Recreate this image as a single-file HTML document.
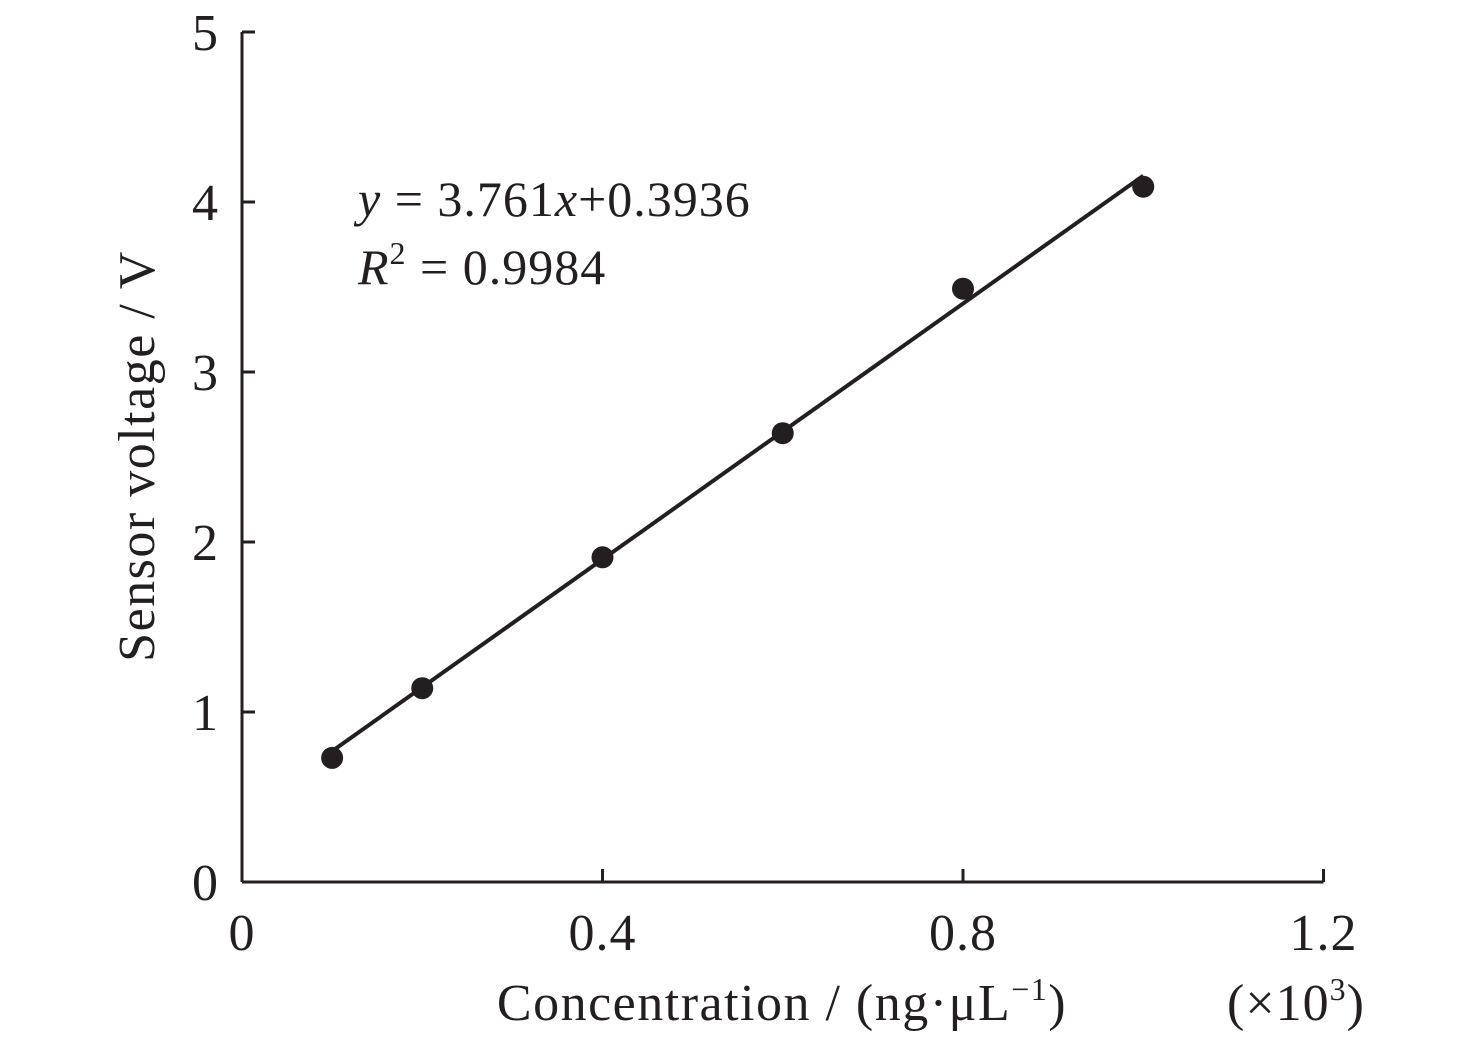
<!DOCTYPE html>
<html><head><meta charset="utf-8"><style>
html,body{margin:0;padding:0;background:#fff;}
svg{display:block;font-family:"Liberation Serif",serif;fill:#231f20;}
</style></head><body>
<svg id="chart" width="1476" height="1037" viewBox="0 0 1476 1037" xmlns="http://www.w3.org/2000/svg">
<g id="axes"></g>
<g id="marks"></g>
<text transform="translate(154,456) rotate(-90)" text-anchor="middle" font-size="52" letter-spacing="1.5">Sensor voltage / V</text>
<text x="782" y="1020" text-anchor="middle" font-size="52" letter-spacing="1.5">Concentration / (ng·μL<tspan font-size="32" dy="-20">−1</tspan><tspan dy="20">)</tspan></text>
<text x="1296" y="1020" text-anchor="middle" font-size="52" letter-spacing="1">(×10<tspan font-size="32" dy="-20">3</tspan><tspan dy="20">)</tspan></text>
<text x="358" y="216" font-size="50" letter-spacing="1"><tspan font-style="italic">y</tspan> = 3.761<tspan font-style="italic">x</tspan>+0.3936</text>
<text x="358" y="284" font-size="50" letter-spacing="1"><tspan font-style="italic">R</tspan><tspan font-size="32" dy="-20">2</tspan><tspan dy="20"> = 0.9984</tspan></text>
</svg>
<script>
const xs = [0.1, 0.2, 0.4, 0.6, 0.8, 1.0];
const ys = [0.73, 1.14, 1.91, 2.64, 3.49, 4.09];
const slope = 3.761;
const intercept = 0.3936;
const xTicks = [0, 0.4, 0.8, 1.2];
const xTickLabels = ["0", "0.4", "0.8", "1.2"];
const yTicks = [0, 1, 2, 3, 4, 5];
const yTickLabels = ["0", "1", "2", "3", "4", "5"];
const NS = "http://www.w3.org/2000/svg";
const X0 = 242, XS = 901.25, Y0 = 882, YS = 170;
const sx = v => X0 + v * XS;
const sy = v => Y0 - v * YS;
function mk(tag, attrs, parent) {
  const e = document.createElementNS(NS, tag);
  for (const k in attrs) e.setAttribute(k, attrs[k]);
  parent.appendChild(e);
  return e;
}
const axes = document.getElementById('axes');
const marks = document.getElementById('marks');
const stroke = '#231f20';
let l = mk('line', {x1: sx(0), y1: sy(0), x2: sx(1.2), y2: sy(0), stroke: stroke, 'stroke-width': 3}, axes);


l = mk('line', {x1: sx(0), y1: sy(0), x2: sx(0), y2: sy(5), stroke: stroke, 'stroke-width': 3}, axes);


xTicks.forEach((v, i) => {
  if (v > 0) {
    const t = mk('line', {x1: sx(v), y1: sy(0), x2: sx(v), y2: sy(0) - 13, stroke: stroke, 'stroke-width': 3}, axes);
    
    
  }
  const tx = mk('text', {x: sx(v), y: 950, 'text-anchor': 'middle', 'font-size': 52, 'letter-spacing': 1}, axes);
  tx.textContent = xTickLabels[i];
  
  
});
yTicks.forEach((v, i) => {
  if (v > 0) {
    const t = mk('line', {x1: sx(0), y1: sy(v), x2: sx(0) + 13, y2: sy(v), stroke: stroke, 'stroke-width': 3}, axes);
    
    
  }
  const tx = mk('text', {x: 218, y: sy(v) + 18, 'text-anchor': 'end', 'font-size': 52}, axes);
  tx.textContent = yTickLabels[i];
  
  
});
const xa = xs[0], xb = xs[xs.length - 1];
const fit = mk('line', {x1: sx(xa), y1: sy(slope * xa + intercept), x2: sx(xb), y2: sy(slope * xb + intercept), stroke: stroke, 'stroke-width': 4}, marks);


xs.forEach((v, i) => {
  const c = mk('circle', {cx: sx(v), cy: sy(ys[i]), r: 11, fill: stroke}, marks);
  
  
});
</script>
</body></html>
